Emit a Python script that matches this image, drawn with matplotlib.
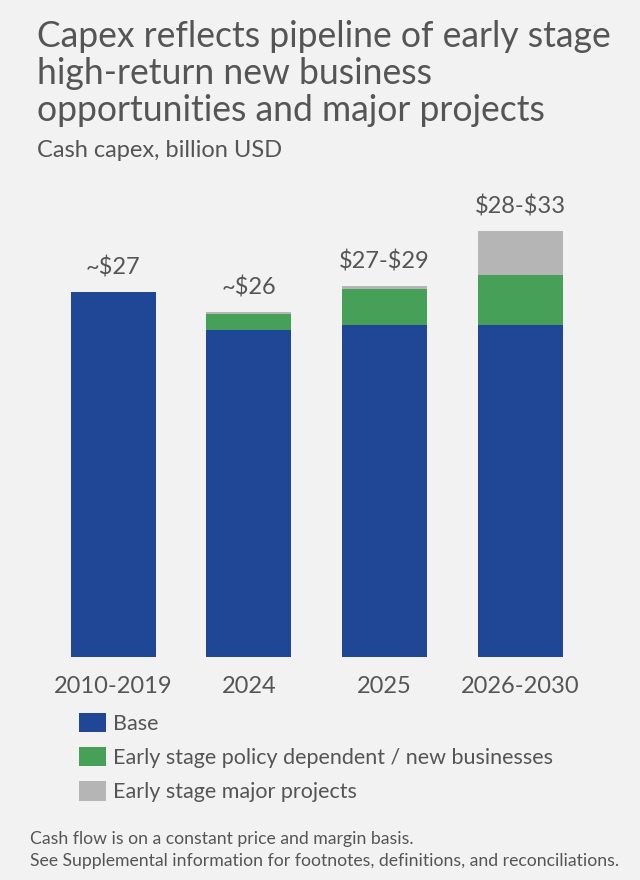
import matplotlib.pyplot as plt
import numpy as np

plt.rcParams['font.family'] = ['Lato', 'DejaVu Sans']

periods = ["2010-2019", "2024", "2025", "2026-2030"]
base = [27.0, 24.2, 24.6, 24.6]
policy = [0.0, 1.2, 2.6, 3.7]
major = [0.0, 0.12, 0.22, 3.2]
totals_txt = ["~\\$27", "~\\$26", "\\$27-\\$29", "\\$28-\\$33"]
series_names = ["Base", "Early stage policy dependent / new businesses",
                "Early stage major projects"]
title_lines = ["Capex reflects pipeline of early stage",
               "high-return new business",
               "opportunities and major projects"]

bg = "#f2f2f2"
txt = "#555555"
colors = ["#204696", "#46a057", "#b5b5b5"]

W, H = 640, 880
fig = plt.figure(figsize=(W / 100, H / 100), dpi=100, facecolor=bg)
# axes placed in pixel terms: baseline at y=657, bars 136 px apart
ax = fig.add_axes([45.4 / W, 223 / H, 542.8 / W, 477 / H], facecolor=bg)

x = np.arange(len(periods))
bw = 0.626
b1 = ax.bar(x, base, bw, color=colors[0], label=series_names[0])
b2 = ax.bar(x, policy, bw, bottom=base, color=colors[1], label=series_names[1])
bot3 = np.array(base) + np.array(policy)
b3 = ax.bar(x, major, bw, bottom=bot3, color=colors[2], label=series_names[2])

tops = bot3 + np.array(major)
for xi, t, s in zip(x, tops, totals_txt):
    ax.annotate(s, (xi, t), xytext=(0, 10), textcoords="offset points",
                ha="center", va="bottom", fontsize=17, color=txt)

ax.set_xlim(-0.5, 3.5)
ax.set_ylim(0, 35.3)
ax.set_xticks(x)
ax.set_xticklabels(periods, fontsize=17, color=txt)
ax.tick_params(axis="x", length=0, pad=14)
ax.set_yticks([])
for sp in ax.spines.values():
    sp.set_visible(False)

for i, line in enumerate(title_lines):
    fig.text(37 / W, 1 - (47 + 37 * i) / H, line, fontsize=25.6, color=txt,
             va="baseline", ha="left")
fig.text(37 / W, 1 - 157 / H, "Cash capex, billion USD", fontsize=17,
         color=txt, va="baseline", ha="left")

fig.legend(handles=[b1, b2, b3], loc="upper left",
           bbox_to_anchor=(70 / W, 1 - 704 / H), frameon=False,
           fontsize=15.5, labelcolor=txt, handlelength=1.25, handleheight=1.0,
           handletextpad=0.35, labelspacing=0.62, borderaxespad=0)

fig.text(30 / W, 1 - 839 / H, "Cash flow is on a constant price and margin basis.",
         fontsize=12.7, color=txt, va="center", ha="left")
fig.text(30 / W, 1 - 861 / H,
         "See Supplemental information for footnotes, definitions, and reconciliations.",
         fontsize=12.7, color=txt, va="center", ha="left")

fig.savefig("out.png", dpi=100, facecolor=bg)
